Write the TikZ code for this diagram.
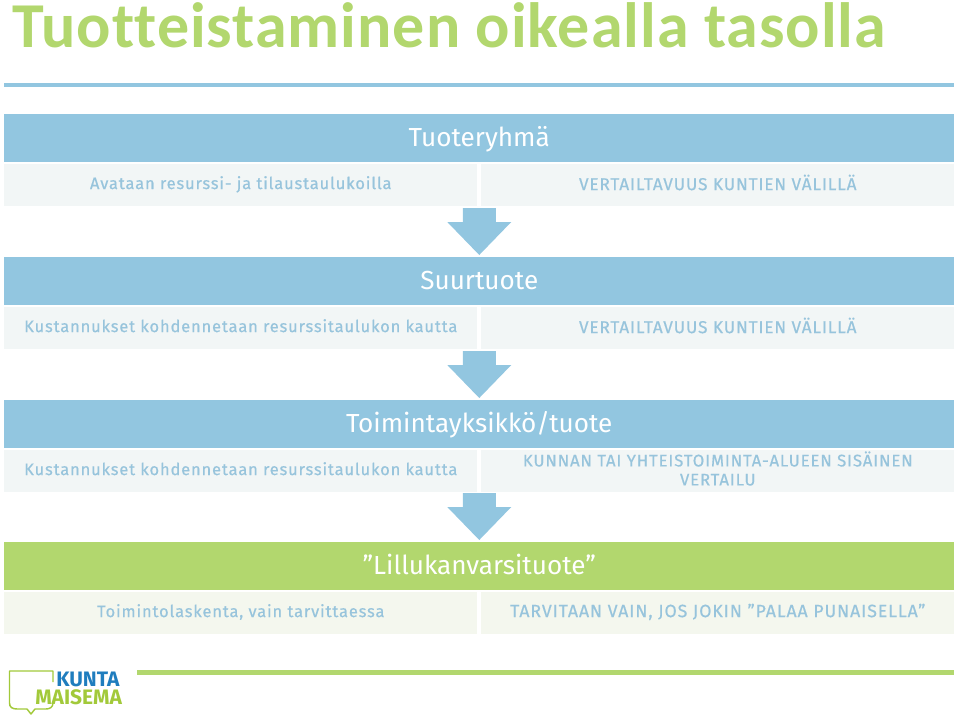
\documentclass[tikz,border=0pt]{standalone}
\usepackage{fontspec}
\usetikzlibrary{calc}
\setmainfont{Fira Sans}
\newfontfamily\titlefont[LetterSpace=1.5,Ligatures=CommonOff]{Carlito}
\newfontfamily\bodyfont[LetterSpace=5,FakeBold=0.5]{Fira Sans}
\newcommand{\bandstrut}{\rule[-5.4pt]{0pt}{23.4pt}}
\definecolor{lblue}{HTML}{92C6E0}
\definecolor{lgreen}{HTML}{B2D76E}
\definecolor{cellblue}{HTML}{F2F6F6}
\definecolor{cellgreen}{HTML}{F4F7EE}
\definecolor{txtblue}{HTML}{97C4DC}
\definecolor{logoblue}{HTML}{1F7DBE}
\definecolor{logogreen}{HTML}{A2C93A}
\tikzset{
  px/.style={x=0.75pt,y=-0.75pt},
  band/.style={fill=#1,inner sep=0pt,text=white,font=\fontsize{19.6}{24}\selectfont,minimum height=36pt,minimum width=712.5pt,anchor=north west},
  cell/.style={fill=#1,inner sep=0pt,text=txtblue,font=\bodyfont\fontsize{12.4}{14.25}\selectfont,minimum height=31.5pt,minimum width=354.75pt,anchor=north west,align=center},
  capscell/.style={cell=#1,font=\bodyfont\fontsize{12.9}{14.25}\selectfont},
  logotext/.style={anchor=west,inner sep=0pt,text=#1,font=\bfseries\fontsize{15.7}{16}\selectfont},
}
\begin{document}
\begin{tikzpicture}[px]
\useasboundingbox (0,0) rectangle (960,718);
\node[anchor=west,inner sep=0pt,text=lgreen,font=\titlefont\bfseries\fontsize{48}{48}\selectfont] (title) at (12,25.5) {Tuotteistaminen oikealla tasolla};
\fill[lblue] (4,82.5) rectangle (954,86.5);
\node[band=lblue] (b1) at (4,114) {\bandstrut Tuoteryhmä};
\node[cell=cellblue] (c1l) at (4,164) {\strut Avataan resurssi- ja tilaustaulukoilla};
\node[capscell=cellblue] (c1r) at (481,164) {\strut VERTAILTAVUUS KUNTIEN VÄLILLÄ};
\node[band=lblue] (b2) at (4,257) {\bandstrut Suurtuote};
\node[cell=cellblue] (c2l) at (4,307) {\strut Kustannukset kohdennetaan resurssitaulukon kautta};
\node[capscell=cellblue] (c2r) at (481,307) {\strut VERTAILTAVUUS KUNTIEN VÄLILLÄ};
\node[band=lblue] (b3) at (4,400) {\bandstrut Toimintayksikkö/tuote};
\node[cell=cellblue] (c3l) at (4,450) {\strut Kustannukset kohdennetaan resurssitaulukon kautta};
\node[cell=cellblue,font=\bodyfont\fontsize{12.6}{14.25}\selectfont] (c3r) at (481,450) {\strut KUNNAN TAI YHTEISTOIMINTA-ALUEEN SISÄINEN\\\strut VERTAILU};
\node[band=lgreen] (b4) at (4,542) {\bandstrut ”Lillukanvarsituote”};
\node[cell=cellgreen] (c4l) at (4,592) {\strut Toimintolaskenta, vain tarvittaessa};
\node[cell=cellgreen,font=\bodyfont\fontsize{13.3}{14.25}\selectfont] (c4r) at (481,592) {\strut TARVITAAN VAIN, JOS JOKIN ”PALAA PUNAISELLA”};
\foreach \v in {b2,b3,b4}{
  \fill[lblue] ($(\v.north)+(-16.5,-49)$) -- ($(\v.north)+(16.5,-49)$) -- ($(\v.north)+(16.5,-35)$) -- ($(\v.north)+(32,-35)$) -- ($(\v.north)+(0,-2)$) -- ($(\v.north)+(-32,-35)$) -- ($(\v.north)+(-16.5,-35)$) -- cycle;
}
\fill[lgreen] (137,670) rectangle (954,674.5);
% logo
\draw[logogreen,line width=1.1pt,line join=round] (53,682) -- (53,671) -- (9.5,671) -- (9.5,703) .. controls (9.5,707) and (12,709) .. (17,709) -- (27,709) -- (31,714) -- (35,709) -- (46,709) .. controls (50,709) and (53,707) .. (53,703);
\node[logotext=logoblue] (kunta) at (56,679) {KUNTA};
\node[logotext=logogreen] (maisema) at (35,697) {MAISEMA};
\end{tikzpicture}
\end{document}
